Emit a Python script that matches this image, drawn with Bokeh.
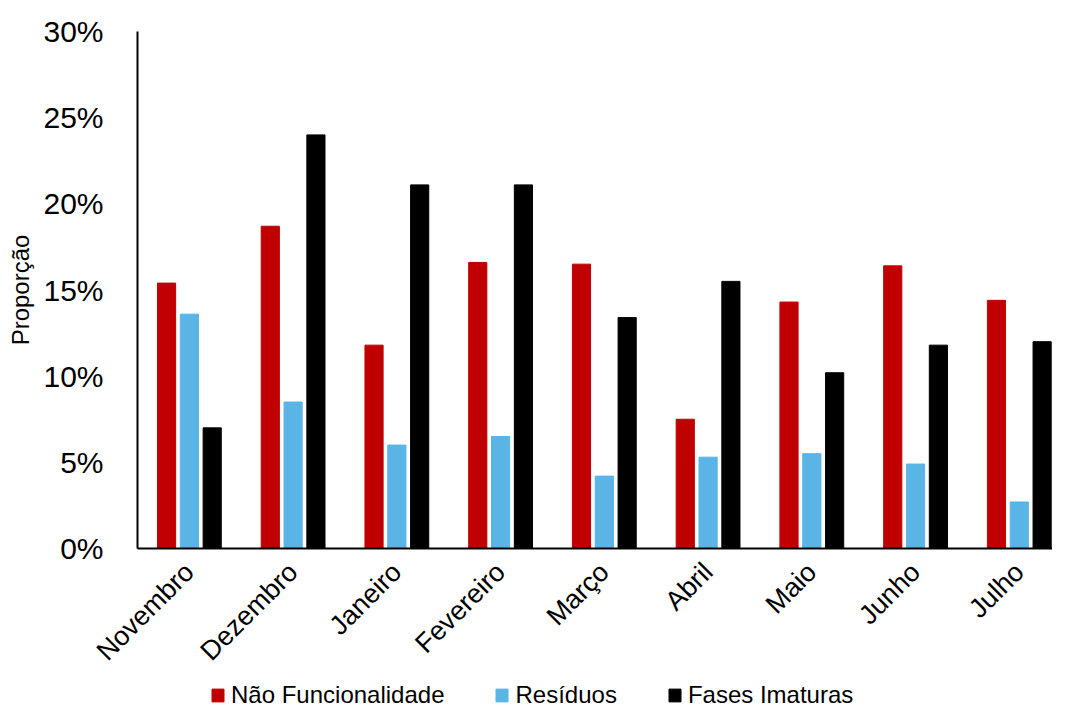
import math
from bokeh.plotting import figure
from bokeh.layouts import column
from bokeh.models import (ColumnDataSource, FixedTicker, NumeralTickFormatter,
                          Legend, LegendItem, Range1d)
from bokeh.transform import dodge
from bokeh.embed import file_html
from bokeh.resources import INLINE

months = ["Novembro", "Dezembro", "Janeiro", "Fevereiro", "Março",
          "Abril", "Maio", "Junho", "Julho"]
nao_funcionalidade = [0.154, 0.187, 0.118, 0.166, 0.165, 0.075, 0.143, 0.164, 0.144]
residuos = [0.136, 0.085, 0.060, 0.065, 0.042, 0.053, 0.055, 0.049, 0.027]
fases_imaturas = [0.070, 0.240, 0.211, 0.211, 0.134, 0.155, 0.102, 0.118, 0.120]
y_ticks = [0.0, 0.05, 0.10, 0.15, 0.20, 0.25, 0.30]
series_names = ["Não Funcionalidade", "Resíduos", "Fases Imaturas"]
series_colors = ["#C00000", "#5AB4E6", "#000000"]

xpos = [i + 0.5 for i in range(len(months))]
src = ColumnDataSource(dict(x=xpos, a=nao_funcionalidade, b=residuos, c=fases_imaturas))

FONT = "Liberation Sans"

p = figure(width=1052, height=679, output_backend="svg", toolbar_location=None,
           x_range=Range1d(0, 8.82), y_range=Range1d(0, 0.30),
           min_border_left=137, min_border_top=31, min_border_bottom=130,
           min_border_right=0)
p.outline_line_color = None
p.xgrid.visible = False
p.ygrid.visible = False

w = 0.175
step = 0.22
p.vbar(x=dodge("x", -step), top="a", width=w, source=src, color=series_colors[0])
p.vbar(x=dodge("x", 0.0), top="b", width=w, source=src, color=series_colors[1])
p.vbar(x=dodge("x", step), top="c", width=w, source=src, color=series_colors[2])

# y axis
p.yaxis.ticker = FixedTicker(ticks=y_ticks)
p.yaxis.formatter = NumeralTickFormatter(format="0%")
p.yaxis.major_label_text_font = FONT
p.yaxis.major_label_text_font_size = "30px"
p.yaxis.major_label_text_color = "#000000"
p.yaxis.major_tick_line_color = None
p.yaxis.minor_tick_line_color = None
p.yaxis.major_label_standoff = 28
p.yaxis.axis_line_color = "#000000"
p.yaxis.axis_line_width = 2
p.yaxis.axis_label = "Proporção"
p.yaxis.axis_label_text_font = FONT
p.yaxis.axis_label_text_font_size = "24px"
p.yaxis.axis_label_text_font_style = "normal"
p.yaxis.axis_label_text_color = "#000000"
p.yaxis.axis_label_standoff = 6

# x axis
p.xaxis.ticker = FixedTicker(ticks=xpos)
p.xaxis.major_label_overrides = {x: m for x, m in zip(xpos, months)}
p.xaxis.major_label_orientation = math.pi / 4
p.xaxis.major_label_text_font = FONT
p.xaxis.major_label_text_font_size = "27px"
p.xaxis.major_label_text_color = "#000000"
p.xaxis.major_tick_line_color = None
p.xaxis.minor_tick_line_color = None
p.xaxis.major_label_standoff = 13
p.xaxis.axis_line_color = "#000000"
p.xaxis.axis_line_width = 2

# legend strip below the chart (its sample bars sit outside the visible range)
lg = figure(width=1052, height=30, output_backend="svg", toolbar_location=None,
            x_axis_location=None, y_axis_location=None,
            x_range=Range1d(2, 3), y_range=Range1d(5, 6),
            min_border_left=0, min_border_right=0, min_border_top=0, min_border_bottom=0)
lg.outline_line_color = None
lg.xgrid.visible = False
lg.ygrid.visible = False
items = []
for name, col, vals in zip(series_names, series_colors,
                           [nao_funcionalidade, residuos, fases_imaturas]):
    r = lg.vbar(x=xpos[:1], top=vals[:1], width=w, color=col)
    items.append(LegendItem(label=name, renderers=[r]))
legend = Legend(items=items, location=(73, 0), orientation="horizontal",
                label_text_font=FONT, label_text_font_size="24px",
                label_text_color="#000000",
                glyph_width=15, glyph_height=16, label_standoff=6, spacing=50,
                padding=0, margin=0, border_line_color=None,
                background_fill_alpha=0)
lg.add_layout(legend, "center")

layout = column(p, lg, spacing=0)
open("out.html", "w").write(file_html(layout, INLINE))
